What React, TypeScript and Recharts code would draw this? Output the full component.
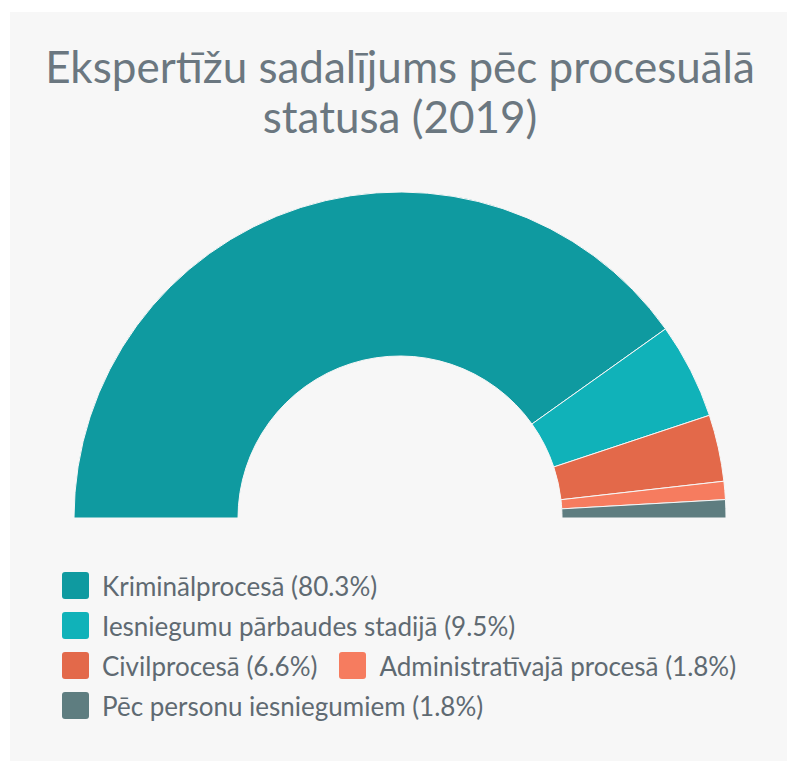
import React from "react";
import { PieChart, Pie, Cell, Legend } from "recharts";

const TITLE_LINES = ["Ekspertīžu sadalījums pēc procesuālā", "statusa (2019)"];
const CATEGORIES = [
  "Kriminālprocesā",
  "Iesniegumu pārbaudes stadijā",
  "Civilprocesā",
  "Administratīvajā procesā",
  "Pēc personu iesniegumiem",
];
const VALUES = [80.3, 9.5, 6.6, 1.8, 1.8];
const COLORS = ["#0f9aa0", "#10b2b9", "#e3694a", "#f67c5f", "#5e7d80"];

const data = CATEGORIES.map((name, i) => ({ name, value: VALUES[i], color: COLORS[i] }));

const FONT = "Lato, 'Open Sans', sans-serif";

const LegendContent = () => (
  <div
    style={{
      display: "flex",
      flexWrap: "wrap",
      width: 700,
      fontFamily: FONT,
      fontSize: 26,
      color: "#5f6a72",
      columnGap: 22,
      rowGap: 13,
    }}
  >
    {data.map((d) => (
      <div key={d.name} style={{ display: "flex", alignItems: "center", whiteSpace: "nowrap", height: 27 }}>
        <span
          style={{
            display: "inline-block",
            width: 27,
            height: 27,
            borderRadius: 3,
            background: d.color,
            marginRight: 13,
          }}
        />
        <span>{`${d.name} (${d.value}%)`}</span>
      </div>
    ))}
  </div>
);

export default function App() {
  return (
    <div
      style={{
        position: "absolute",
        left: 10,
        top: 12,
        width: 777,
        height: 749,
        background: "#f7f7f7",
      }}
    >
      <PieChart width={777} height={749} margin={{ top: 0, right: 0, bottom: 0, left: 0 }}>
        <text textAnchor="middle" fontFamily={FONT} fontSize={44} fill="#6b7780">
          <tspan x={390} y={71}>{TITLE_LINES[0]}</tspan>
          <tspan x={390} y={121}>{TITLE_LINES[1]}</tspan>
        </text>
        <Pie
          data={data}
          dataKey="value"
          nameKey="name"
          cx={390}
          cy={506}
          startAngle={180}
          endAngle={0}
          innerRadius={162}
          outerRadius={326}
          stroke="#f7f7f7"
          strokeWidth={1}
          isAnimationActive={false}
        >
          {data.map((d) => (
            <Cell key={d.name} fill={d.color} />
          ))}
        </Pie>
        <Legend
          content={<LegendContent />}
          wrapperStyle={{ left: 52, top: 560, width: 700 }}
        />
      </PieChart>
    </div>
  );
}
